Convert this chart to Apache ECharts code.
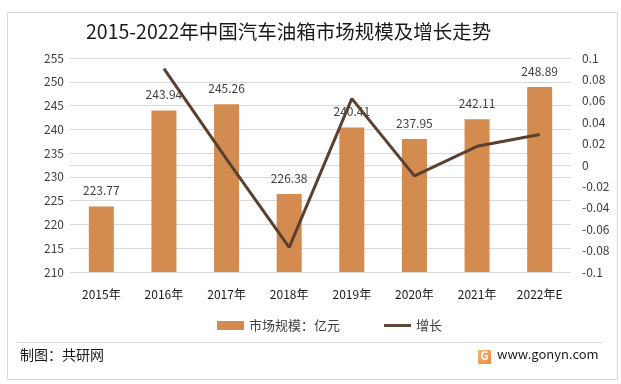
<!DOCTYPE html>
<html><head><meta charset="utf-8">
<script src="https://cdn.jsdelivr.net/npm/echarts@6/dist/echarts.min.js"></script>
<style>html,body{margin:0;padding:0;background:#fff}#c{width:621px;height:384px}</style>
</head><body><div id="c"></div>
<script>
const categories = ['2015年','2016年','2017年','2018年','2019年','2020年','2021年','2022年E'];
const marketSize = [223.77,243.94,245.26,226.38,240.41,237.95,242.11,248.89];
const growth = [null,0.0901,0.0054,-0.0770,0.0620,-0.0102,0.0175,0.0285];
const leftTicks = {min:210,max:255,interval:5};
const rightTicks = {min:-0.1,max:0.1,interval:0.02};
const F = '"Noto Sans CJK SC", "Noto Sans", sans-serif';
const chart = echarts.init(document.getElementById('c'), null, {renderer:'canvas'});
chart.setOption({
  animation:false,
  backgroundColor:'#fff',
  textStyle:{fontFamily:F},
  title:{text:'2015-2022年中国汽车油箱市场规模及增长走势',left:81,top:17,
    textStyle:{fontSize:19.5,fontWeight:'normal',color:'#1a1a1a',fontFamily:F}},
  graphic:[
    {type:'rect',shape:{x:7.5,y:12.5,width:610,height:367},style:{fill:null,stroke:'#d9d9d9',lineWidth:1},z:-1},
    {type:'line',shape:{x1:17,y1:342.5,x2:602,y2:342.5},style:{stroke:'#d9d9d9',lineWidth:1}},
    {type:'text',left:20,top:348,style:{text:'制图：共研网',fontSize:14,fill:'#1a1a1a',fontFamily:F}},
    {type:'rect',shape:{x:478,y:350,width:13,height:14},style:{fill:new echarts.graphic.LinearGradient(0,0,1,1,[{offset:0,color:'#f7b47a'},{offset:1,color:'#ef8a3c'}])}},
    {type:'text',x:480.5,y:350,style:{text:'G',fontSize:11,fontWeight:'bold',fill:'#fff',fontFamily:F}},
    {type:'text',left:497,top:348,style:{text:'www.gonyn.com',fontSize:13,fill:'#1a1a1a',fontFamily:F}}
  ],
  legend:{top:314,left:212,itemGap:44,itemWidth:27,itemHeight:9,
    textStyle:{fontSize:13,color:'#404040',fontFamily:F},
    data:[{name:'市场规模：亿元',icon:'rect'},{name:'增长',icon:'path://M0,0 L28,0 L28,3 L0,3 Z',itemStyle:{color:'#5b4030'}}]},
  grid:{left:70,right:50,top:58,bottom:112},
  xAxis:{type:'category',data:categories,
    axisLine:{lineStyle:{color:'#d9d9d9'}},axisTick:{show:false},
    axisLabel:{fontSize:12,color:'#1a1a1a',margin:16,fontFamily:F}},
  yAxis:[
    {type:'value',min:leftTicks.min,max:leftTicks.max,interval:leftTicks.interval,
     axisLine:{show:false},axisTick:{show:false},
     axisLabel:{fontSize:12,color:'#404040',margin:6,fontFamily:F},
     splitLine:{lineStyle:{color:'#d9d9d9'}}},
    {type:'value',min:rightTicks.min,max:rightTicks.max,interval:rightTicks.interval,
     axisLine:{show:false},axisTick:{show:false},splitLine:{show:false},
     axisLabel:{fontSize:12,color:'#404040',margin:11,fontFamily:F,
       formatter:v=>{const r=Math.round(v*100)/100;return r===0?'0':String(r);}}}
  ],
  series:[
    {name:'市场规模：亿元',type:'bar',data:marketSize,barWidth:25,
     itemStyle:{color:'#d38b4f'},
     label:{show:true,position:'top',distance:10,fontSize:12,color:'#404040',fontFamily:F}},
    {name:'增长',type:'line',yAxisIndex:1,data:growth,symbol:'none',
     lineStyle:{color:'#5b4030',width:3},itemStyle:{color:'#5b4030'}}
  ]
});
</script></body></html>
